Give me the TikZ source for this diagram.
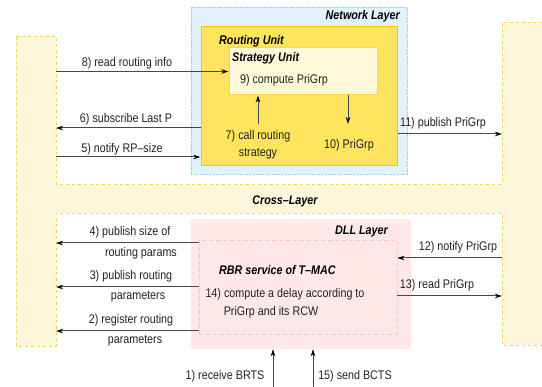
\documentclass[tikz,border=0pt]{standalone}
\usepackage{fontspec}
\setmainfont{Liberation Sans}[FakeStretch=0.86]
\usetikzlibrary{arrows.meta}
\definecolor{crossfill}{HTML}{FFF7DC}
\definecolor{crossline}{HTML}{FFD54F}
\definecolor{netfill}{HTML}{E3F2FD}
\definecolor{netline}{HTML}{90CAF9}
\definecolor{rufill}{HTML}{FFE45E}
\definecolor{ruline}{HTML}{F5C400}
\definecolor{sufill}{HTML}{FFF8DA}
\definecolor{suline}{HTML}{FFD54F}
\definecolor{dllfill}{HTML}{FFE8E8}
\definecolor{rbrline}{HTML}{FFC2C2}
\definecolor{txt}{HTML}{222222}
\tikzset{
  box/.style={rectangle, inner sep=0pt, anchor=center},
  lbl/.style={font=\fontsize{12.5}{14}\selectfont, text=txt, inner sep=0pt},
  ttl/.style={font=\fontsize{12.5}{14}\selectfont\bfseries\itshape, text=black, inner sep=0pt},
  arr/.style={draw=black!72, line width=1pt, -{Stealth[length=7pt,width=4.5pt,inset=2pt,color=black]}},
}
\begin{document}
\begin{tikzpicture}[x=1pt,y=-1pt]
\useasboundingbox (0,0) rectangle (542,387);
\clip (0,0) rectangle (542,387);
% cross layer
\draw[crossline, fill=crossfill, dashed, line width=0.9pt, dash pattern=on 3pt off 3pt]
  (16,36) -- (56,36) -- (56,184) -- (502,184) -- (502,22) -- (548,22) -- (548,345)
  -- (502,345) -- (502,213) -- (56,213) -- (56,346) -- (16,346) -- cycle;
\node[ttl] (crosst) at (285,201) {Cross{\char"2013}Layer};
% network layer
\node[box, draw=netline, fill=netfill, densely dotted, line width=0.8pt,
  minimum width=216pt, minimum height=167pt] (net) at (299,90.5) {};
\node[ttl, anchor=east] (nett) at (400,16) {Network Layer};
\node[box, draw=ruline, fill=rufill, line width=1pt,
  minimum width=196pt, minimum height=139pt] (ru) at (299,96.5) {};
\node[ttl, anchor=west] (rut) at (219,41) {Routing Unit};
\node[box, draw=suline, fill=sufill, line width=1pt,
  minimum width=148pt, minimum height=47pt] (su) at (303,71.5) {};
\node[ttl, anchor=west] (sut) at (232,58) {Strategy Unit};
\node[lbl] (t9) at (284,80) {9) compute PriGrp};
% DLL layer
\node[box, fill=dllfill, minimum width=220pt, minimum height=130pt] (dll) at (301,284) {};
\node[box, draw=rbrline, dashed, dash pattern=on 4pt off 3pt, line width=0.8pt,
  minimum width=198pt, minimum height=94pt] (rbr) at (298,287) {};
\node[ttl, anchor=east] (dllt) at (388,232) {DLL Layer};
\node[ttl, anchor=west] (rbrt) at (219,270) {RBR service of T{\char"2013}MAC};
\node[lbl] (t14a) at (285,294) {14) compute a delay according to};
\node[lbl] (t14b) at (271,312) {PriGrp and its RCW};
% coordinates on the cross layer bars
\coordinate (c8) at (56,71.5);
\coordinate (c6) at (56,128);
\coordinate (c5) at (56,157);
\coordinate (c11) at (502,134);
\coordinate (c4) at (56,243);
\coordinate (c3) at (56,287);
\coordinate (c2) at (56,331);
\coordinate (c12) at (502,258);
\coordinate (c13) at (502,296);
\coordinate (c7) at (258,124);
\coordinate (c10) at (348,124);
\coordinate (c1) at (273,390);
\coordinate (c15) at (313,390);
% arrows
\draw[arr] (c8) -- (c8 -| su.west);
\node[lbl] (t8) at (127,63) {8) read routing info};
\draw[arr] (c6 -| ru.west) -- (c6);
\node[lbl] (t6) at (126,119) {6) subscribe Last P};
\draw[arr] (c5) -- (c5 -| ru.west);
\node[lbl] (t5) at (122,149) {5) notify RP{\char"2013}size};
\draw[arr] (c11 -| ru.east) -- (c11);
\node[lbl] (t11) at (443,123) {11) publish PriGrp};
\draw[arr] (c7) -- (c7 |- su.south);
\node[lbl] (t7a) at (258,136) {7) call routing};
\node[lbl] (t7b) at (258,154) {strategy};
\draw[arr] (c10 |- su.south) -- (c10);
\node[lbl] (t10) at (349,145) {10) PriGrp};
\draw[arr] (c4 -| rbr.west) -- (c4);
\node[lbl] (t4a) at (130,232) {4) publish size of};
\node[lbl] (t4b) at (141,253) {routing params};
\draw[arr] (c3 -| rbr.west) -- (c3);
\node[lbl] (t3a) at (131,276) {3) publish routing};
\node[lbl] (t3b) at (138,297) {parameters};
\draw[arr] (c2 -| rbr.west) -- (c2);
\node[lbl] (t2a) at (131,320) {2) register routing};
\node[lbl] (t2b) at (135,341) {parameters};
\draw[arr] (c12) -- (c12 -| rbr.east);
\node[lbl] (t12) at (458,247) {12) notify PriGrp};
\draw[arr] (c13 -| rbr.east) -- (c13);
\node[lbl] (t13) at (437,285) {13) read PriGrp};
\draw[arr] (c1) -- (c1 |- dll.south);
\node[lbl] (t1) at (225,376) {1) receive BRTS};
\draw[arr] (c15) -- (c15 |- dll.south);
\node[lbl] (t15) at (355,376) {15) send BCTS};
\end{tikzpicture}
\end{document}
